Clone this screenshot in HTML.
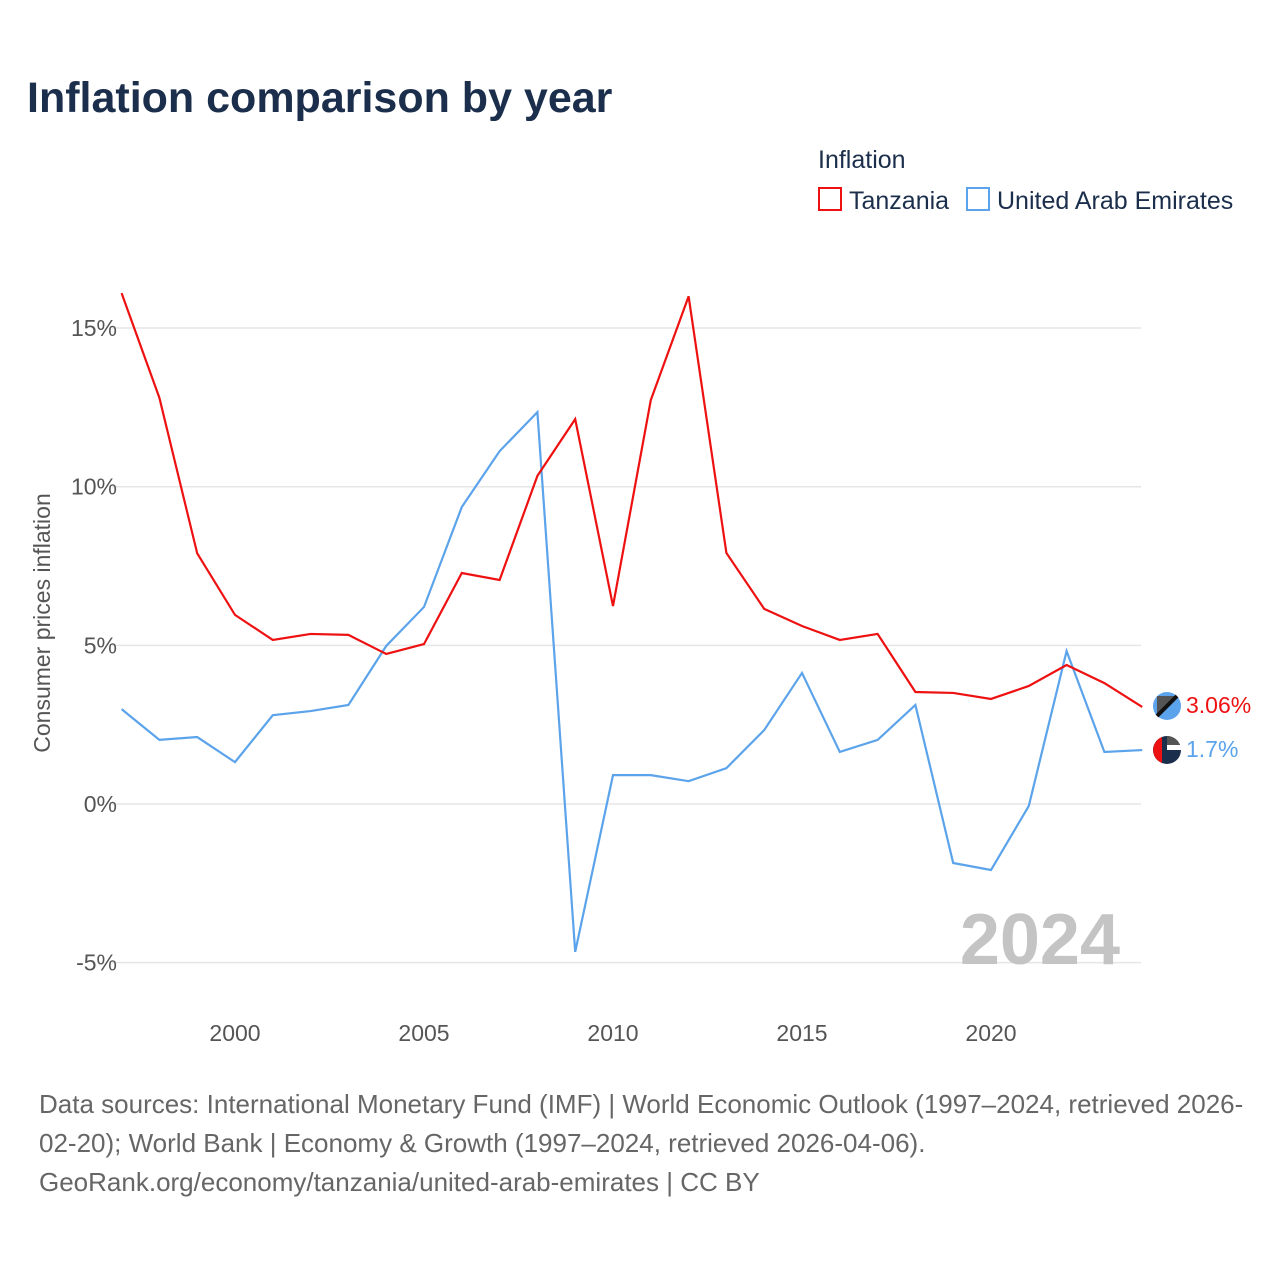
<!DOCTYPE html>
<html><head><meta charset="utf-8">
<style>
body{margin:0;background:#fff;}
svg text{font-family:"Liberation Sans",sans-serif;}
</style></head>
<body>
<svg id="chart" width="1280" height="1280" viewBox="0 0 1280 1280" xmlns="http://www.w3.org/2000/svg">
<text x="27" y="112" font-size="43" font-weight="bold" fill="#1b2e4b">Inflation comparison by year</text>
<text x="818" y="168" font-size="25" fill="#1b2e4b">Inflation</text>
<g>
<rect x="819" y="188" width="22" height="22" fill="none" stroke="#ee1111" stroke-width="2"/>
<text x="849" y="209" font-size="25" fill="#1b2e4b">Tanzania</text></g>
<g>
<rect x="967" y="188" width="22" height="22" fill="none" stroke="#5ba3ea" stroke-width="2"/>
<text x="997" y="209" font-size="25" fill="#1b2e4b">United Arab Emirates</text></g>
<text transform="translate(50,623) rotate(-90)" text-anchor="middle" font-size="23" fill="#555">Consumer prices inflation</text>
<g id="grid"></g><g id="xt"></g>
<text x="1120" y="964" text-anchor="end" font-size="72" font-weight="bold" fill="#c4c4c4">2024</text>
<g id="lines"></g>
<g>
<circle cx="1167" cy="706" r="14" fill="#5ba3ea"/><path d="M1157 696 L1177 696 L1157 716Z" fill="#555"/>
<line x1="1157" y1="716" x2="1177" y2="696" stroke="#111" stroke-width="4"/>
<text x="1186" y="713" font-size="23" fill="#ee1111">3.06%</text></g>
<g>
<circle cx="1167" cy="750" r="14" fill="#1b2e4b"/><path d="M1167 736 A14 14 0 0 1 1181 750 L1167 750Z" fill="#555"/><rect x="1167" y="745" width="14" height="5" fill="#fff"/>
<path d="M1162 737 A14 14 0 0 0 1162 763Z" fill="#ee1111"/>
<text x="1186" y="757" font-size="23" fill="#5ba3ea">1.7%</text></g>
<text font-size="26" fill="#666">
<tspan x="39" y="1113">Data sources: International Monetary Fund (IMF) | World Economic Outlook (1997–2024, retrieved 2026-</tspan>
<tspan x="39" y="1152">02-20); World Bank | Economy &amp; Growth (1997–2024, retrieved 2026-04-06).</tspan>
<tspan x="39" y="1191">GeoRank.org/economy/tanzania/united-arab-emirates | CC BY</tspan></text>
</svg>
<script>
const years=[1997,1998,1999,2000,2001,2002,2003,2004,2005,2006,2007,2008,2009,2010,2011,2012,2013,2014,2015,2016,2017,2018,2019,2020,2021,2022,2023,2024];
const tanzania=[16.1,12.8,7.9,5.96,5.17,5.36,5.33,4.73,5.04,7.28,7.06,10.34,12.13,6.24,12.73,16.0,7.91,6.15,5.61,5.17,5.36,3.53,3.5,3.31,3.72,4.38,3.81,3.06];
const uae=[2.99,2.02,2.11,1.32,2.8,2.93,3.12,4.98,6.21,9.36,11.12,12.35,-4.66,0.91,0.91,0.72,1.13,2.33,4.13,1.64,2.02,3.12,-1.86,-2.08,-0.06,4.82,1.64,1.7];
const yTicks=[-5,0,5,10,15];
const xTicks=[2000,2005,2010,2015,2020];
const NS="http://www.w3.org/2000/svg";
const X=v=>235+(v-2000)*37.8;
const Y=v=>804-v*31.73;
const grid=document.getElementById('grid'),xt=document.getElementById('xt'),lines=document.getElementById('lines');
yTicks.forEach(t=>{
 const l=document.createElementNS(NS,'line');
 l.setAttribute('x1',112);l.setAttribute('x2',1141);l.setAttribute('y1',Y(t));l.setAttribute('y2',Y(t));
 l.setAttribute('stroke','#e6e6e6');l.setAttribute('stroke-width','1.5');
 
 
 grid.appendChild(l);
 const tx=document.createElementNS(NS,'text');
 tx.setAttribute('x',117);tx.setAttribute('y',Y(t)+8);tx.setAttribute('text-anchor','end');
 tx.setAttribute('font-size','23');tx.setAttribute('fill','#555');tx.textContent=t+'%';
 
 
 grid.appendChild(tx);
});
xTicks.forEach(t=>{
 const tx=document.createElementNS(NS,'text');
 tx.setAttribute('x',X(t));tx.setAttribute('y',1041);tx.setAttribute('text-anchor','middle');
 tx.setAttribute('font-size','23');tx.setAttribute('fill','#555');tx.textContent=t;
 
 
 xt.appendChild(tx);
});
function draw(vals,color,name){
 const p=document.createElementNS(NS,'polyline');
 p.setAttribute('points',vals.map((v,i)=>X(years[i])+','+Y(v)).join(' '));
 p.setAttribute('fill','none');p.setAttribute('stroke',color);p.setAttribute('stroke-width','2.2');
 
 
 lines.appendChild(p);
}
draw(uae,'#5ba3ea','uae-line');
draw(tanzania,'#ee1111','tanzania-line');
</script>
</body></html>
